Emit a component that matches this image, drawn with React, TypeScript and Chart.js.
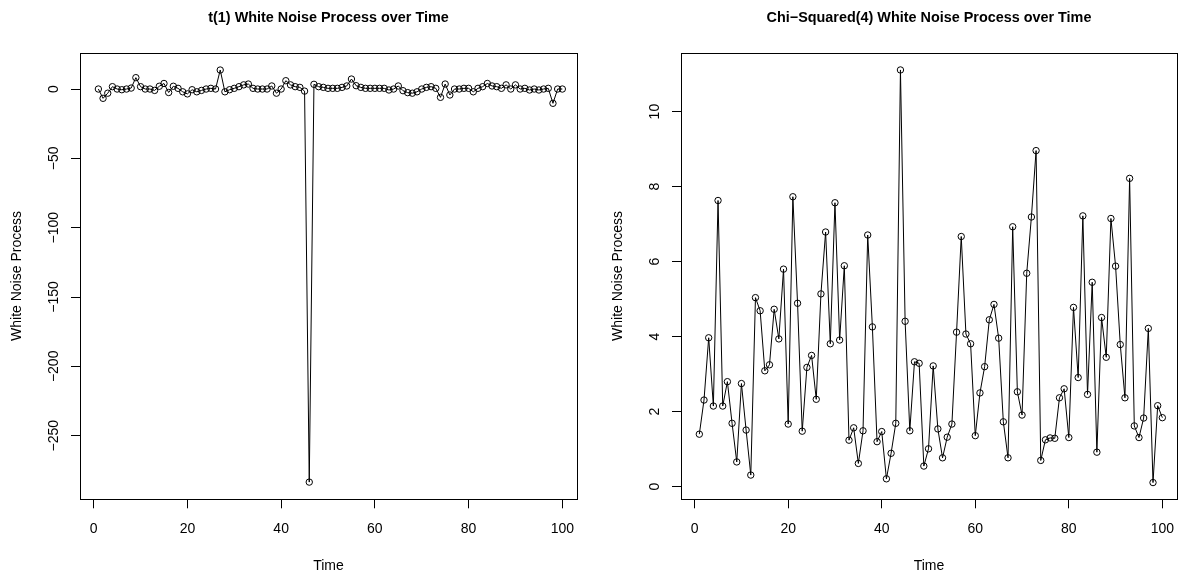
import React, { useEffect, useRef } from "react";
import { Chart, registerables } from "chart.js";

Chart.register(...registerables);

// ---------- data ----------
const time: number[] = Array.from({ length: 100 }, (_, i) => i + 1);

const tValues: number[] = [
  0, -6.7, -3, 1.7, 0, -0.5, 0, 0.7, 8.2, 1.7,
  0, 0, -1, 2, 4, -2.5, 2, 0.5, -2, -3.5,
  -0.5, -2, -1, 0, 0.5, 0, 13.7, -2, -0.5, 0.5,
  1.7, 3, 3.6, 0.5, 0, 0, 0, 2.2, -3, 0,
  6, 3, 1.7, 1.2, -1.5, -283.5, 3.4, 1.7, 1.2, 0.5,
  0.5, 0.5, 1.2, 2.2, 7.2, 2.4, 1.2, 0.5, 0.5, 0.5,
  0.5, 0.5, -0.7, 0, 2.2, -1.2, -2.6, -3, -2, 0,
  1.2, 1.7, 0.5, -6, 3.6, -4.3, 0, 0, 0.5, 0.5,
  -2, 0.5, 1.7, 4, 2.2, 1.7, 0.5, 3, 0, 3,
  0, 0.5, -0.7, 0, -0.7, 0, 0.5, -10.3, 0, 0,
];

const chiValues: number[] = [
  1.40, 2.31, 3.97, 2.15, 7.63, 2.15, 2.80, 1.69, 0.66, 2.75,
  1.51, 0.31, 5.04, 4.69, 3.09, 3.25, 4.73, 3.94, 5.80, 1.67,
  7.73, 4.89, 1.48, 3.18, 3.50, 2.33, 5.14, 6.79, 3.81, 7.57,
  3.91, 5.89, 1.24, 1.57, 0.62, 1.49, 6.71, 4.26, 1.20, 1.47,
  0.21, 0.89, 1.69, 11.11, 4.41, 1.49, 3.33, 3.29, 0.55, 1.01,
  3.22, 1.54, 0.77, 1.32, 1.67, 4.12, 6.67, 4.07, 3.81, 1.36,
  2.50, 3.20, 4.45, 4.86, 3.96, 1.73, 0.77, 6.93, 2.53, 1.91,
  5.69, 7.19, 8.96, 0.70, 1.25, 1.30, 1.29, 2.37, 2.61, 1.31,
  4.78, 2.91, 7.22, 2.46, 5.45, 0.92, 4.51, 3.45, 7.15, 5.88,
  3.79, 2.37, 8.22, 1.62, 1.31, 1.83, 4.22, 0.11, 2.16, 1.84,
];

const xTicks: number[] = [0, 20, 40, 60, 80, 100];
const tYTicks: number[] = [-250, -200, -150, -100, -50, 0];
const chiYTicks: number[] = [0, 2, 4, 6, 8, 10];

const tTitle = "t(1) White Noise Process over Time";
const chiTitle = "Chi\u2212Squared(4) White Noise Process over Time";
const xLabel = "Time";
const yLabel = "White Noise Process";

// ---------- layout ----------
const W = 591;
const H = 575;
const BOX_TOP = 52.7;
const BOX_BOTTOM = 499.3;
const FONT = '"Liberation Sans", Arial, Helvetica, sans-serif';

type PanelProps = {
  title: string;
  values: number[];
  yTicks: number[];
  yMin: number;
  yMax: number;
  boxLeft: number;
  boxRight: number;
  xMin: number;
  xMax: number;
};

function fmt(v: number): string {
  return String(v).replace("-", "\u2212");
}

function Panel(props: PanelProps) {
  const ref = useRef<HTMLCanvasElement | null>(null);
  useEffect(() => {
    const canvas = ref.current;
    if (!canvas) return;
    const { title, values, yTicks, yMin, yMax, boxLeft, boxRight, xMin, xMax } = props;

    const textPlugin = {
      id: "rText",
      afterDraw(chart: any) {
        const ctx = chart.ctx as CanvasRenderingContext2D;
        const ca = chart.chartArea;
        const xs = chart.scales.x;
        const ys = chart.scales.y;
        ctx.save();
        // box
        ctx.strokeStyle = "#000";
        ctx.lineWidth = 1;
        const l = Math.round(ca.left) + 0.5;
        const t = Math.round(ca.top) + 0.5;
        const r = Math.round(ca.right) + 0.5;
        const b = Math.round(ca.bottom) + 0.5;
        ctx.strokeRect(l, t, r - l, b - t);

        ctx.fillStyle = "#000";
        // x tick labels
        ctx.font = `14px ${FONT}`;
        ctx.textAlign = "center";
        ctx.textBaseline = "alphabetic";
        for (const tk of xs.ticks) {
          const px = xs.getPixelForValue(tk.value);
          ctx.fillText(fmt(tk.value), px, 532.7);
        }
        // y tick labels (rotated)
        for (const tk of ys.ticks) {
          const py = ys.getPixelForValue(tk.value);
          ctx.save();
          ctx.translate(ca.left - 22, py);
          ctx.rotate(-Math.PI / 2);
          ctx.fillText(fmt(tk.value), 0, 0);
          ctx.restore();
        }
        // x label
        ctx.fillText(xLabel, (ca.left + ca.right) / 2, 570);
        // y label
        ctx.save();
        ctx.translate(ca.left - 59, (ca.top + ca.bottom) / 2);
        ctx.rotate(-Math.PI / 2);
        ctx.fillText(yLabel, 0, 0);
        ctx.restore();
        // title
        ctx.font = `bold 14.4px ${FONT}`;
        ctx.fillText(title, (ca.left + ca.right) / 2, 21.7);
        ctx.restore();
      },
    };

    const chart = new Chart(canvas, {
      type: "scatter",
      data: {
        datasets: [
          {
            data: time.map((x, i) => ({ x, y: values[i] })),
            showLine: true,
            borderColor: "#000",
            borderWidth: 1,
            tension: 0,
            pointRadius: 3.2,
            pointBorderWidth: 1,
            pointBorderColor: "#000",
            pointBackgroundColor: "rgba(0,0,0,0)",
            pointStyle: "circle",
          },
        ],
      },
      options: {
        responsive: false,
        animation: false,
        devicePixelRatio: 1,
        layout: {
          padding: { left: 0, right: W - boxRight, top: BOX_TOP, bottom: 0 },
        },
        plugins: {
          legend: { display: false },
          tooltip: { enabled: false },
          title: { display: false },
        },
        scales: {
          x: {
            type: "linear",
            min: xMin,
            max: xMax,
            afterBuildTicks: (s: any) => {
              s.ticks = xTicks.map((v) => ({ value: v }));
            },
            afterFit: (s: any) => {
              s.height = H - BOX_BOTTOM;
            },
            ticks: { display: false },
            grid: {
              drawOnChartArea: false,
              drawTicks: true,
              tickLength: 9,
              color: "#000",
              lineWidth: 1,
            },
            border: { display: false },
          },
          y: {
            type: "linear",
            min: yMin,
            max: yMax,
            afterBuildTicks: (s: any) => {
              s.ticks = yTicks.map((v) => ({ value: v }));
            },
            afterFit: (s: any) => {
              s.width = boxLeft;
            },
            ticks: { display: false },
            grid: {
              drawOnChartArea: false,
              drawTicks: true,
              tickLength: 9,
              color: "#000",
              lineWidth: 1,
            },
            border: { display: false },
          },
        },
      },
      plugins: [textPlugin],
    } as any);
    return () => chart.destroy();
  }, []);
  return <canvas ref={ref} width={W} height={H} style={{ width: W, height: H, display: "block" }} />;
}

export default function App() {
  return (
    <div
      style={{
        position: "fixed",
        left: 0,
        top: 0,
        width: 1182,
        height: 575,
        background: "#fff",
      }}
    >
      <div style={{ position: "absolute", left: 0, top: 0 }}>
        <Panel
          title={tTitle}
          values={tValues}
          yTicks={tYTicks}
          yMin={-295.9}
          yMax={26.2}
          boxLeft={80}
          boxRight={577}
          xMin={-2.92}
          xMax={103.13}
        />
      </div>
      <div style={{ position: "absolute", left: 591, top: 0 }}>
        <Panel
          title={chiTitle}
          values={chiValues}
          yTicks={chiYTicks}
          yMin={-0.336}
          yMax={11.57}
          boxLeft={90}
          boxRight={588}
          xMin={-2.92}
          xMax={103.13}
        />
      </div>
    </div>
  );
}
